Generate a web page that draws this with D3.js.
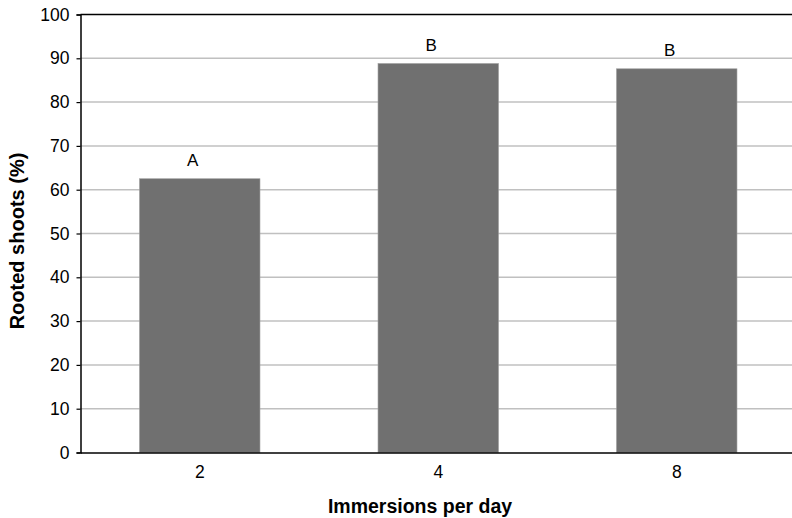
<!DOCTYPE html>
<html><head><meta charset="utf-8">
<script src="https://cdn.jsdelivr.net/npm/d3@7"></script>
<style>body{margin:0;background:#fff;} svg{display:block;font-family:"Liberation Sans",Arial,sans-serif;}</style>
</head><body><svg id="c" width="792" height="518"></svg>
<script>
const categories = ["2", "4", "8"];
const values = [62.5, 88.8, 87.6];
const letters = ["A", "B", "B"];
const yTicks = [0, 10, 20, 30, 40, 50, 60, 70, 80, 90, 100];

const svg = d3.select("#c");
const m = {l: 80.5, t: 14.5, r: 796, b: 452.5};
const x = d3.scaleBand().domain(categories).range([m.l, m.r]).paddingInner(0.495).paddingOuter(0.2475);
const y = d3.scaleLinear().domain([0, 100]).range([m.b, m.t]);
const FF = "Liberation Sans, Arial, sans-serif";

// gridlines
svg.append("g").selectAll("line").data(yTicks.filter(d => d > 0 && d < 100)).join("line")
  .attr("x1", m.l).attr("x2", m.r).attr("y1", d => y(d)).attr("y2", d => y(d))
  .attr("stroke", "#c0c0c0").attr("stroke-width", 1.5);

// bars
svg.append("g").selectAll("rect").data(values).join("rect")
  .attr("x", (d, i) => x(categories[i])).attr("width", x.bandwidth())
  .attr("y", d => y(d)).attr("height", d => y(0) - y(d))
  .attr("fill", "#707070").attr("stroke", "#9a9a9a").attr("stroke-width", 0.6);

// letters
svg.append("g").selectAll("text").data(letters).join("text")
  .attr("x", (d, i) => x(categories[i]) + x.bandwidth() / 2 - 7)
  .attr("y", (d, i) => y(values[i]) - 13)
  .attr("text-anchor", "middle").attr("font-size", 17).attr("font-family", FF).attr("fill", "#000").text(d => d);

// top frame
svg.append("line").attr("x1", m.l).attr("x2", m.r).attr("y1", m.t).attr("y2", m.t)
  .attr("stroke", "#000").attr("stroke-width", 1.5);

// y axis
const ya = svg.append("g").attr("transform", `translate(${m.l},0)`)
  .call(d3.axisLeft(y).tickValues(yTicks).tickSize(4).tickPadding(7));
ya.select(".domain").attr("stroke", "#000").attr("stroke-width", 1.5);
ya.selectAll(".tick line").attr("stroke", "#000").attr("stroke-width", 1.2);
ya.selectAll("text").attr("font-size", 17.5).attr("font-family", FF).attr("fill", "#000");

// x axis
const xa = svg.append("g").attr("transform", `translate(0,${m.b})`)
  .call(d3.axisBottom(x).tickSize(0).tickPadding(13));
xa.select(".domain").attr("stroke", "#000").attr("stroke-width", 1.5);
xa.selectAll("text").attr("font-size", 17.5).attr("font-family", FF).attr("fill", "#000");

// axis titles
svg.append("text").attr("x", 420).attr("y", 513).attr("text-anchor", "middle")
  .attr("font-size", 19.5).attr("font-weight", "bold").attr("font-family", FF).text("Immersions per day");
svg.append("text").attr("transform", "translate(24,241) rotate(-90)").attr("text-anchor", "middle")
  .attr("font-size", 20).attr("font-weight", "bold").attr("font-family", FF).text("Rooted shoots (%)");
</script></body></html>
